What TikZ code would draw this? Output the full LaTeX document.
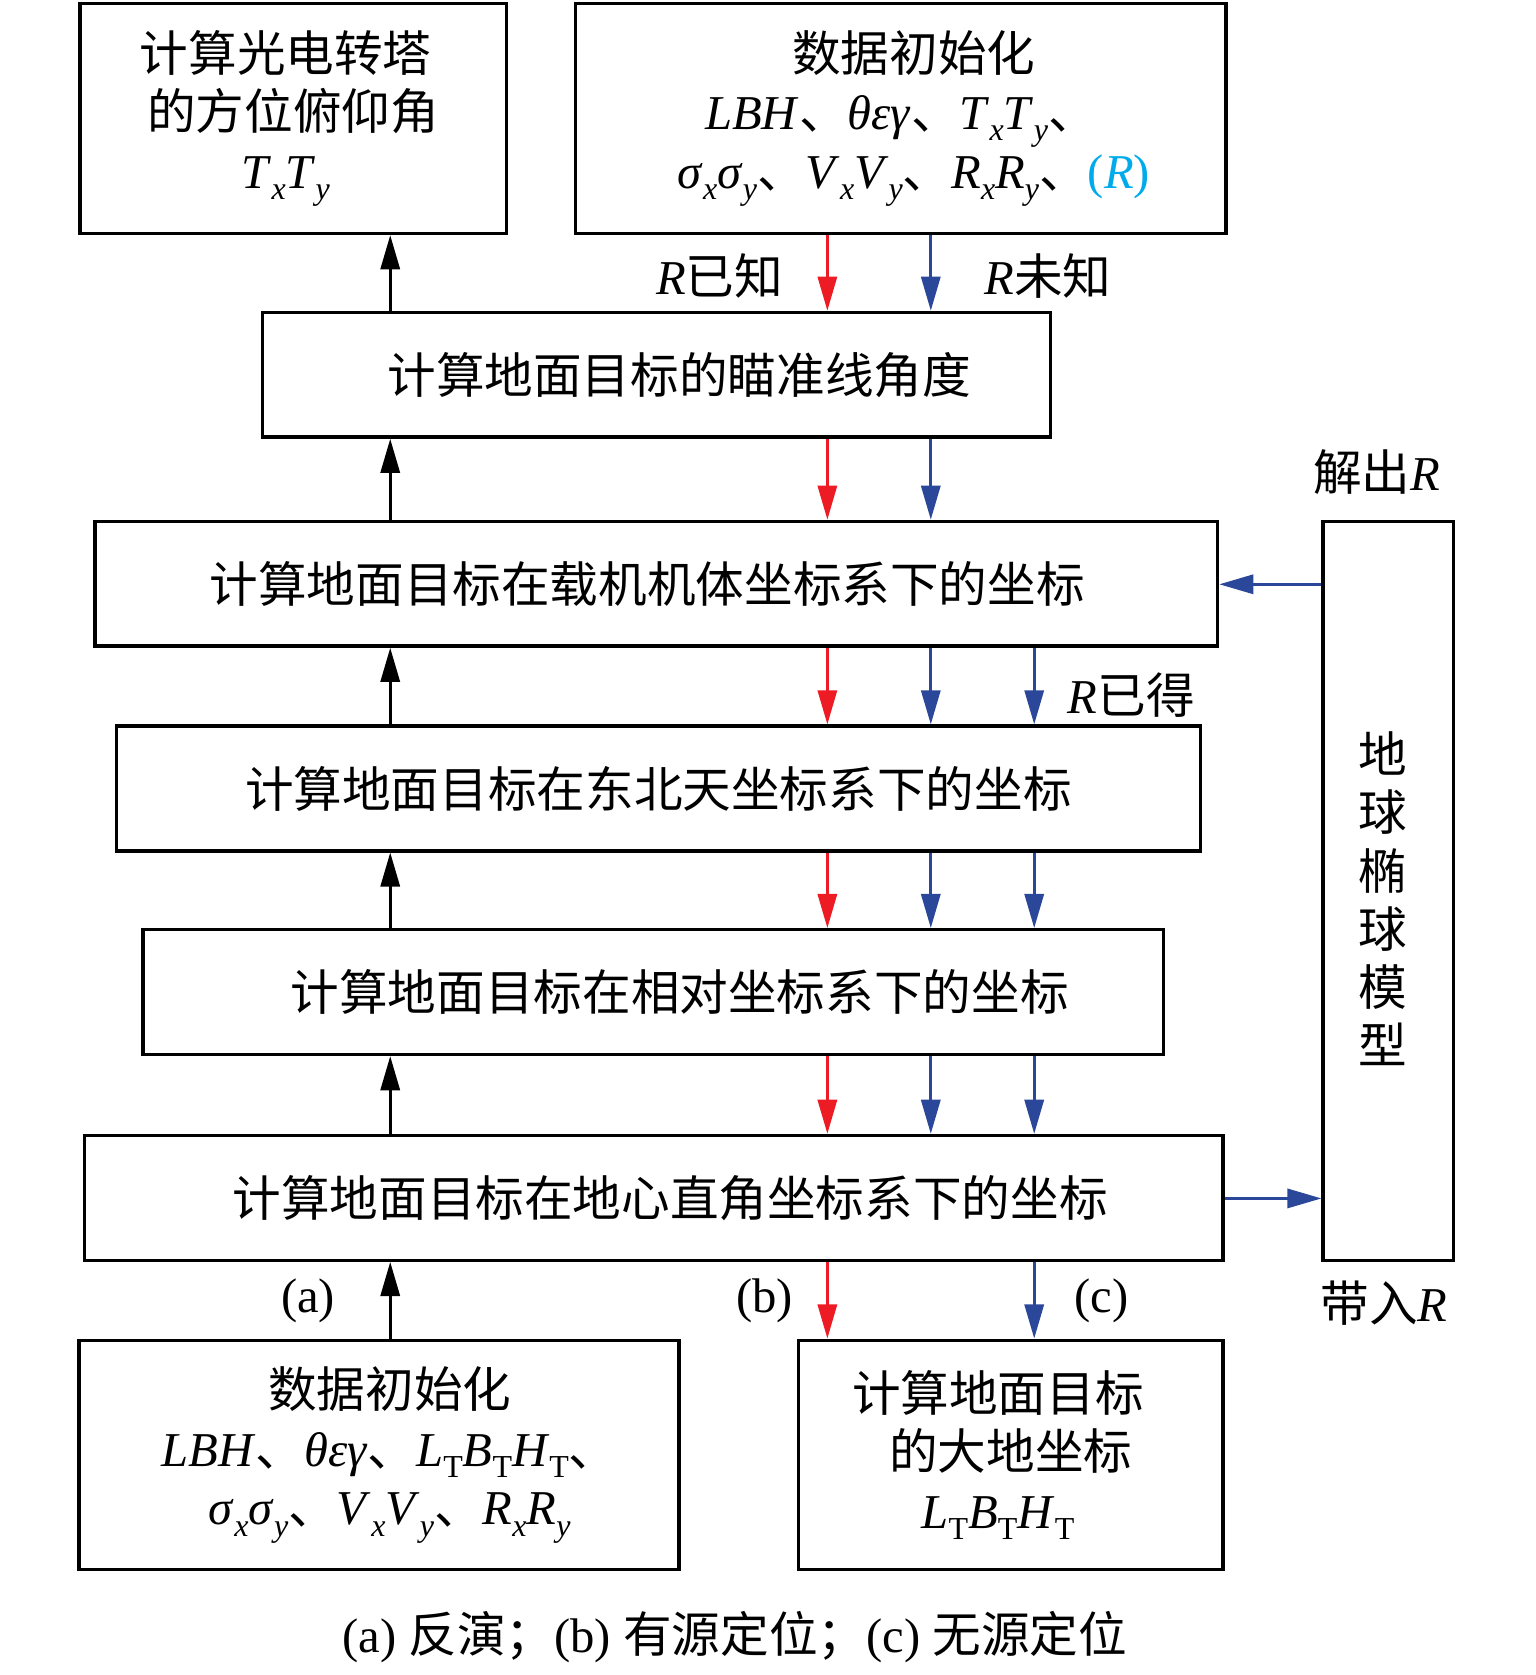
\documentclass[tikz,border=0pt]{standalone}
\usepackage{fontspec}
\setmainfont{Liberation Serif}
\newfontfamily\cjk{Noto Sans CJK SC}
\usetikzlibrary{arrows.meta}
\definecolor{ared}{RGB}{237,28,36}
\definecolor{ablue}{RGB}{43,71,153}
\definecolor{acyan}{RGB}{0,170,235}
\newcommand\lo[1]{\raisebox{-0.5ex}{\fontsize{15pt}{15pt}\selectfont #1}}
\newcommand\mi[1]{\textit{#1}}
\newcommand\dn{{\cjk 、}}
\newcommand\hs[1]{\hspace*{#1pt}}
\begin{document}
\begin{tikzpicture}[x=0.5pt,y=-0.5pt,
  box/.style={draw=black,line width=1.6pt,align=center,inner sep=0pt,
    font=\fontsize{22.8pt}{27.5pt}\selectfont},
  lbl/.style={font=\fontsize{22.8pt}{27.5pt}\selectfont,inner sep=0pt},
  arr/.style={line width=1.3pt,-{Triangle[length=16pt,width=9pt]}},
  karr/.style={arr,draw=black,fill=black},
  rarr/.style={arr,draw=ared,fill=ared},
  barr/.style={arr,draw=ablue,fill=ablue}]
\useasboundingbox (0,0) rectangle (1440,1571);

% boxes
\node[box,minimum width=200pt,minimum height=108pt] (A) at (275,111)
  {{\cjk 计算光电转塔}\hs{7}\\{\cjk 的方位俯仰角}\hs{7}\\\mi{T}\lo{\mi{x}}\mi{T}\lo{\mi{y}}\hs{7}};
\node[box,minimum width=305pt,minimum height=108pt] (B) at (845,111)
  {\hs{12}{\cjk 数据初始化}\\
   \mi{LBH}\dn\mi{θεγ}\dn\mi{T}\lo{\mi{x}}\mi{T}\lo{\mi{y}}\dn\\
   \hs{12}\mi{σ}\lo{\mi{x}}\mi{σ}\lo{\mi{y}}\dn\mi{V}\lo{\mi{x}}\mi{V}\lo{\mi{y}}\dn\mi{R}\lo{\mi{x}}\mi{R}\lo{\mi{y}}\dn\textcolor{acyan}{(\mi{R})}};
\node[box,minimum width=369.5pt,minimum height=58.5pt] (C) at (615.5,351.5)
  {\hs{21.5}{\cjk 计算地面目标的瞄准线角度}};
\node[box,minimum width=526.5pt,minimum height=58.5pt] (D) at (615.5,547.5)
  {{\cjk 计算地面目标在载机机体坐标系下的坐标}\hs{8.5}};
\node[box,minimum width=508.5pt,minimum height=58.5pt] (E) at (617.5,739.5)
  {{\cjk 计算地面目标在东北天坐标系下的坐标}};
\node[box,minimum width=478.5pt,minimum height=58.5pt] (F) at (612.5,930.5)
  {\hs{25}{\cjk 计算地面目标在相对坐标系下的坐标}};
\node[box,minimum width=534pt,minimum height=58.5pt] (G) at (613,1123.5)
  {\hs{15.5}{\cjk 计算地面目标在地心直角坐标系下的坐标}};
\node[box,minimum width=281.5pt,minimum height=107.5pt] (H) at (355.5,1364.5)
  {\hs{10}{\cjk 数据初始化}\\
   \hs{10}\mi{LBH}\dn\mi{θεγ}\dn\mi{L}\lo{T}\mi{B}\lo{T}\mi{H}\lo{T}\dn\\
   \hs{10}\mi{σ}\lo{\mi{x}}\mi{σ}\lo{\mi{y}}\dn\mi{V}\lo{\mi{x}}\mi{V}\lo{\mi{y}}\dn\mi{R}\lo{\mi{x}}\mi{R}\lo{\mi{y}}};
\node[box,minimum width=199pt,minimum height=107.5pt] (I) at (948,1364.5)
  {{\cjk 计算地面目标}\hs{12}\\{\cjk 的大地坐标}\hs{12}\\\mi{L}\lo{T}\mi{B}\lo{T}\mi{H}\lo{T}\hs{12}};
\node[box,minimum width=61pt,minimum height=346.5pt] (J) at (1302,835.5) {};
\node[lbl,align=center,font=\fontsize{22.8pt}{27.3pt}\selectfont] (Jt) at (1297,843)
  {{\cjk 地}\\{\cjk 球}\\{\cjk 椭}\\{\cjk 球}\\{\cjk 模}\\{\cjk 型}};

% labels
\node[lbl] (lk) at (675,259) {\mi{R}{\cjk 已知}};
\node[lbl] (lu) at (983,259) {\mi{R}{\cjk 未知}};
\node[lbl] (ls) at (1291,443) {{\cjk 解出}\mi{R}};
\node[lbl] (lg) at (1061,652) {\mi{R}{\cjk 已得}};
\node[lbl] (li) at (1298,1222) {{\cjk 带入}\mi{R}};
\node[lbl] (la) at (289,1220) {(a)};
\node[lbl] (lb) at (717,1220) {(b)};
\node[lbl] (lc) at (1033,1220) {(c)};
\node[lbl] (cap) at (689,1535) {(a) {\cjk 反演；}(b) {\cjk 有源定位；}(c) {\cjk 无源定位}};

% connector columns
\coordinate (xk) at (366,0);
\coordinate (xr) at (776,0);
\coordinate (xb) at (873,0);
\coordinate (xc) at (970,0);
\coordinate (yu) at (0,548);
\coordinate (yv) at (0,1124);

% black (a)
\draw[karr] (C.north -| xk) -- (A.south -| xk);
\draw[karr] (D.north -| xk) -- (C.south -| xk);
\draw[karr] (E.north -| xk) -- (D.south -| xk);
\draw[karr] (F.north -| xk) -- (E.south -| xk);
\draw[karr] (G.north -| xk) -- (F.south -| xk);
\draw[karr] (H.north -| xk) -- (G.south -| xk);

% red (b)
\draw[rarr] (B.south -| xr) -- (C.north -| xr);
\draw[rarr] (C.south -| xr) -- (D.north -| xr);
\draw[rarr] (D.south -| xr) -- (E.north -| xr);
\draw[rarr] (E.south -| xr) -- (F.north -| xr);
\draw[rarr] (F.south -| xr) -- (G.north -| xr);
\draw[rarr] (G.south -| xr) -- (I.north -| xr);

% blue (c)
\draw[barr] (B.south -| xb) -- (C.north -| xb);
\draw[barr] (C.south -| xb) -- (D.north -| xb);
\draw[barr] (D.south -| xb) -- (E.north -| xb);
\draw[barr] (E.south -| xb) -- (F.north -| xb);
\draw[barr] (F.south -| xb) -- (G.north -| xb);
\draw[barr] (D.south -| xc) -- (E.north -| xc);
\draw[barr] (E.south -| xc) -- (F.north -| xc);
\draw[barr] (F.south -| xc) -- (G.north -| xc);
\draw[barr] (G.south -| xc) -- (I.north -| xc);
\draw[barr] (J.west |- yu) -- (D.east |- yu);
\draw[barr] (G.east |- yv) -- (J.west |- yv);
\end{tikzpicture}
\end{document}
